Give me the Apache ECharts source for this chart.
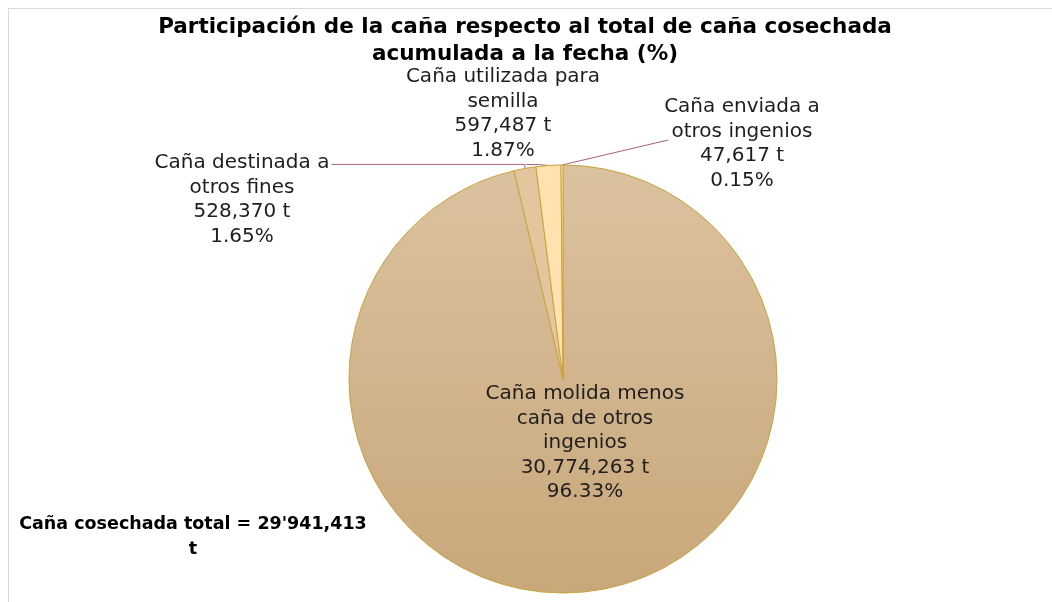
<!DOCTYPE html>
<html>
<head>
<meta charset="utf-8">
<script src="https://cdn.jsdelivr.net/npm/echarts@6/dist/echarts.min.js"></script>
<style>
html,body{margin:0;padding:0;background:#fff;}
#chart{width:1052px;height:602px;}
</style>
</head>
<body>
<div id="chart"></div>
<script>
// ---- Data ----
var categories = [
  "Caña molida menos\ncaña de otros\ningenios",
  "Caña destinada a\notros fines",
  "Caña utilizada para\nsemilla",
  "Caña enviada a\notros ingenios"
];
var tons = [30774263, 528370, 597487, 47617];
var titleText = "Participación de la caña respecto al total de caña cosechada\nacumulada a la fecha (%)";
var totalText = "Caña cosechada total = 29'941,413\nt";

// ---- Styles ----
var sliceColors = [
  {type:'linear', x:0, y:0, x2:0, y2:1, colorStops:[{offset:0,color:'#DBC29F'},{offset:1,color:'#C8A77A'}]},
  '#E3C69D',
  '#FFE2B0',
  '#FBEBD3'
];
var labelPos = [
  {x:585, y:443},
  {x:242, y:200},
  {x:503, y:114},
  {x:742, y:144}
];

var chart = echarts.init(document.getElementById('chart'));
var fmt = function(v){ return v.toLocaleString('en-US'); };

var data = categories.map(function(c, i){
  var d = {name:c, value:tons[i], itemStyle:{color:sliceColors[i]}};
  if (i === 0) {
    d.label = {position:'inside'};
    d.labelLine = {show:false};
  }
  return d;
});

chart.setOption({
  animation:false,
  backgroundColor:'#fff',
  title:{
    text:titleText,
    left:520, top:9, textAlign:'center',
    textStyle:{fontFamily:'DejaVu Sans', fontWeight:'bold', fontSize:21.5, lineHeight:27, color:'#000'}
  },
  graphic:[
    {type:'rect', shape:{x:8.5,y:8.5,width:1100,height:700}, style:{fill:'none', stroke:'#d9d9d9', lineWidth:1}, silent:true, z:-1},
    {type:'text', z:100, style:{text:totalText, x:193, y:537, align:'center', verticalAlign:'middle', font:'bold 17.5px "DejaVu Sans"', fill:'#000', lineHeight:25}}
  ],
  series:[{
    type:'pie',
    center:[563,379],
    radius:214,
    startAngle:90,
    clockwise:true,
    avoidLabelOverlap:false,
    data:data,
    itemStyle:{borderColor:'#C9A33A', borderWidth:1},
    label:{
      show:true,
      position:'outside',
      fontFamily:'DejaVu Sans',
      fontSize:20,
      lineHeight:24.5,
      color:'#1e1e1e',
      align:'center',
      formatter:function(p){ return p.name + '\n' + fmt(p.value) + ' t\n' + p.percent.toFixed(2) + '%'; }
    },
    labelLine:{show:true, length:10, length2:10, lineStyle:{color:'#A8607A', width:1}},
    labelLayout:function(p){
      var i = p.dataIndex;
      var lp = labelPos[i];
      var out = {x:lp.x, y:lp.y, align:'center', verticalAlign:'middle'};
      var pts = p.labelLinePoints;
      if (pts && pts.length) {
        var s = pts[0];
        var w = p.labelRect.width, h = p.labelRect.height;
        if (i === 1) {
          var ey = s[1] - 4;
          out.labelLinePoints = [s, [s[0], ey], [lp.x + w / 2 + 2, ey]];
        } else if (i === 2) {
          out.labelLinePoints = [s, [s[0] - 10, s[1] - 1], [s[0] - 22, s[1] - 1]];
        } else if (i === 3) {
          var e = [lp.x - w / 2 + 4, lp.y - h / 2 + 45];
          out.labelLinePoints = [s, e, e];
        }
      }
      return out;
    }
  }]
});
</script>
</body>
</html>
